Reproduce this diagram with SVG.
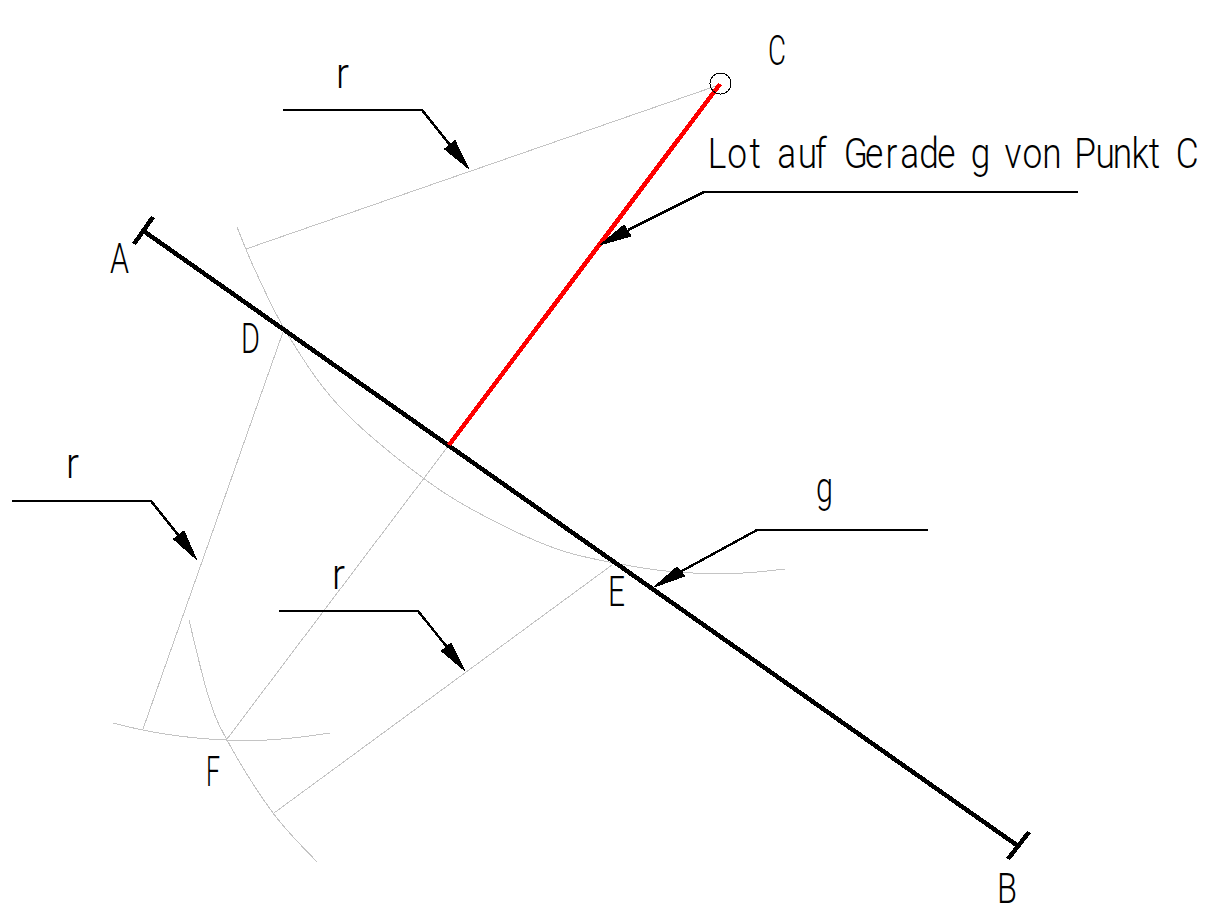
<svg xmlns="http://www.w3.org/2000/svg" width="1210" height="914" viewBox="0 0 1210 914">
<style>
path,circle{shape-rendering:crispEdges}
.c{fill:none;stroke:#c4c4c4;stroke-width:1}
.m{fill:none;stroke:#000;stroke-width:4.500}
.l{fill:none;stroke:#000;stroke-width:2.400}
.h{fill:#000;stroke:#000;stroke-width:1}
text{font-family:"Roboto","Liberation Sans",sans-serif;font-weight:300;font-size:43px;fill:#000}
</style>
<rect width="1210" height="914" fill="#fff"/>
<g id="connectors">
<path class="c" d="M716 86L246 249"/>
<path class="c" d="M237 227C240 234 246.500 252 255 270C263.500 288 273.800 312.200 288 335C302.200 357.800 317.500 383.200 340 407C362.500 430.800 398 459.300 423 478C448 496.700 466.700 506.800 490 519C513.300 531.200 537.500 542.800 563 551C588.500 559.200 621.300 564.300 643 568C664.700 571.700 676.300 572.200 693 573C709.700 573.800 727.700 573.700 743 573C758.300 572.300 778 569.700 785 569"/>
<path class="c" d="M283 332L143 729"/>
<path class="c" d="M449 445L227 739"/>
<path class="c" d="M612 565L274 813"/>
<path class="c" d="M113 723C150 733 190 740 245 740.500C275 741 305 737 330 733"/>
<path class="c" d="M189 620C192 632 201.700 675 208 695C214.300 715 216.200 720.300 227 740C237.800 759.700 258 792.700 273 813C288 833.300 309.700 853.800 317 862"/>
<path class="m" d="M145 232L1018 846M134 244L153 217M1008 859L1029 832"/>
<path fill="none" stroke="#f00" stroke-width="4.500" d="M720 84L449 445"/>
<circle cx="720.500" cy="83.500" r="10.500" fill="none" stroke="#000" stroke-width="1"/>
<path class="l" d="M283 110H422L450 145"/>
<path class="h" d="M468.500 168.500L444.500 149L455 140.500Z"/>
<path class="l" d="M12 501H151L179 536"/>
<path class="h" d="M196.500 559.500L173.500 539L184 531Z"/>
<path class="l" d="M279 611H418L447 647"/>
<path class="h" d="M464.500 670.500L441.500 651L451 643Z"/>
<path class="l" d="M1078 192H704L628 230"/>
<path class="h" d="M600 245L624 225L631 236Z"/>
<path class="l" d="M928 530H757L680 572"/>
<path class="h" d="M654 587L677 567L685 576Z"/>
</g>
<g id="point-C"><text x="768" y="65" textLength="18" lengthAdjust="spacingAndGlyphs">C</text></g>
<g id="label-lot"><text transform="scale(.82,1)" y="168" x="863 887 914 930 948 973 994 1010 1029 1055 1080 1098 1121 1143 1165 1184 1205 1225 1247 1271 1290 1310 1336 1357 1380 1401 1420 1434">Lot auf Gerade g von Punkt C</text></g>
<g id="r-1"><text x="336" y="88" textLength="13" lengthAdjust="spacingAndGlyphs" font-size="40">r</text></g>
<g id="r-2"><text x="66" y="478" textLength="13" lengthAdjust="spacingAndGlyphs">r</text></g>
<g id="r-3"><text x="332" y="589" textLength="13" lengthAdjust="spacingAndGlyphs">r</text></g>
<g id="point-A"><text x="110" y="273" textLength="19" lengthAdjust="spacingAndGlyphs">A</text></g>
<g id="point-D"><text x="241" y="353" textLength="19" lengthAdjust="spacingAndGlyphs">D</text></g>
<g id="point-E"><text x="608" y="606" textLength="17" lengthAdjust="spacingAndGlyphs">E</text></g>
<g id="point-F"><text x="206" y="786" textLength="14" lengthAdjust="spacingAndGlyphs">F</text></g>
<g id="point-B"><text x="997" y="903" textLength="20" lengthAdjust="spacingAndGlyphs">B</text></g>
<g id="label-g"><text x="816" y="502" textLength="17" lengthAdjust="spacingAndGlyphs">g</text></g>
</svg>
